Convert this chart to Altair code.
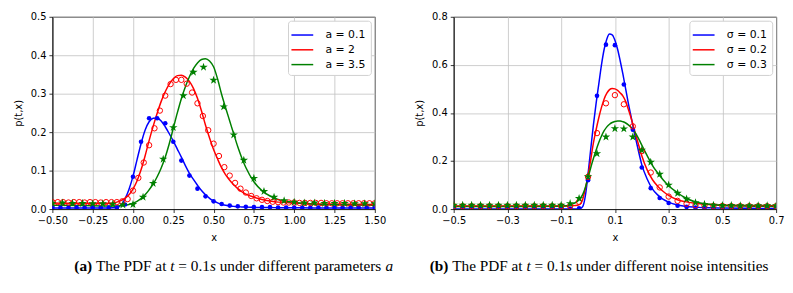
import math
import pandas as pd
import altair as alt

# ---------------- data ----------------
A_LABELS = ["a = 0.1", "a = 2", "a = 3.5"]
S_LABELS = ["σ = 0.1", "σ = 0.2", "σ = 0.3"]
COLORS = ["#0000ff", "#ff0000", "#008000"]

# left panel: solid curves
left_line_x = [-0.5, -0.3, -0.15, -0.1, -0.075, -0.05, -0.025, 0.0,
               0.025, 0.05, 0.075, 0.1, 0.125, 0.15, 0.175, 0.2, 0.225, 0.25,
               0.275, 0.3, 0.325, 0.35, 0.375, 0.4, 0.425, 0.45, 0.475, 0.5,
               0.525, 0.55, 0.575, 0.6, 0.625, 0.65, 0.675, 0.7,
               0.75, 0.8, 0.85, 0.9, 1.0, 1.1, 1.25, 1.5]
left_line_blue = [0.003, 0.003, 0.003, 0.004, 0.01, 0.026, 0.051, 0.085,
                  0.128, 0.17, 0.205, 0.227, 0.236, 0.237, 0.229, 0.214, 0.196, 0.177,
                  0.156, 0.135, 0.113, 0.093, 0.077, 0.062, 0.048, 0.037, 0.028, 0.021,
                  0.016, 0.012, 0.01, 0.008, 0.007, 0.006, 0.0055, 0.005,
                  0.0045, 0.004, 0.004, 0.0035, 0.0035, 0.003, 0.003, 0.003]
left_line_red = [0.016, 0.015, 0.015, 0.018, 0.022, 0.028, 0.037, 0.052,
                 0.073, 0.102, 0.138, 0.178, 0.215, 0.249, 0.28, 0.305, 0.325, 0.339,
                 0.347, 0.348, 0.343, 0.332, 0.314, 0.288, 0.255, 0.218, 0.185, 0.155,
                 0.13, 0.107, 0.089, 0.075, 0.063, 0.053, 0.045, 0.039,
                 0.031, 0.025, 0.021, 0.018, 0.016, 0.014, 0.013, 0.012]
left_line_green = [0.01, 0.009, 0.008, 0.008, 0.009, 0.01, 0.012, 0.015,
                   0.02, 0.027, 0.037, 0.05, 0.065, 0.084, 0.107, 0.135, 0.17, 0.21,
                   0.25, 0.287, 0.318, 0.344, 0.365, 0.38, 0.389, 0.391, 0.385, 0.37,
                   0.338, 0.298, 0.263, 0.229, 0.195, 0.162, 0.133, 0.108,
                   0.071, 0.048, 0.034, 0.025, 0.017, 0.013, 0.011, 0.01]

# left panel: markers
left_dot_x = [round(-0.5 + 0.05 * k, 4) for k in range(41)]
left_dot_blue = [0.004] * 9 + [0.012, 0.084, 0.175, 0.236, 0.236, 0.223, 0.175, 0.126,
                               0.087, 0.053, 0.033, 0.02, 0.013, 0.009, 0.007, 0.006, 0.005,
                               0.005, 0.005, 0.004, 0.004, 0.004, 0.004, 0.004, 0.004,
                               0.004, 0.004, 0.004, 0.004, 0.004, 0.004, 0.004]
left_circ_x = [round(-0.5 + k / 30, 4) for k in range(61)]
left_circ_red = [0.018, 0.018, 0.018, 0.017, 0.018, 0.018, 0.017, 0.018, 0.018, 0.017, 0.018, 0.018,
                 0.018, 0.02, 0.026, 0.048, 0.081, 0.121, 0.166, 0.21, 0.256, 0.295, 0.325,
                 0.336, 0.336, 0.326, 0.303, 0.275, 0.242, 0.205, 0.17, 0.138, 0.109, 0.087,
                 0.068, 0.053, 0.043, 0.034, 0.028, 0.024, 0.021, 0.019, 0.018,
                 0.017, 0.017, 0.017, 0.016, 0.016, 0.016, 0.016, 0.016, 0.015, 0.015,
                 0.015, 0.015, 0.015, 0.015, 0.015, 0.015, 0.015, 0.015]
left_star_x = [round(-0.5 + 0.0625 * k, 4) for k in range(33)]
left_star_green = [0.015, 0.016, 0.015, 0.015, 0.014, 0.014,
                   0.013, 0.011, 0.012, 0.031, 0.067, 0.13, 0.212, 0.295, 0.356, 0.369,
                   0.335, 0.266, 0.193, 0.127, 0.08, 0.046, 0.031, 0.022, 0.018,
                   0.016, 0.016, 0.015, 0.015, 0.015, 0.014, 0.014, 0.014]

# right panel: solid curves
right_line_x = [-0.5, -0.2, -0.1, -0.08, -0.06, -0.04, -0.03, -0.02, -0.01,
                0.0, 0.01, 0.02, 0.03, 0.04, 0.05, 0.06, 0.07, 0.08, 0.09, 0.1,
                0.11, 0.12, 0.13, 0.14, 0.15, 0.16, 0.17, 0.18, 0.19, 0.2,
                0.22, 0.24, 0.26, 0.28, 0.3,
                0.33, 0.36, 0.4, 0.45, 0.5, 0.6, 0.7]
right_line_blue = [0.0, 0.0, 0.0, 0.0, 0.0, 0.0005, 0.002, 0.01, 0.055,
                   0.145, 0.25, 0.35, 0.44, 0.52, 0.6, 0.665, 0.708, 0.728, 0.725, 0.702,
                   0.665, 0.615, 0.56, 0.5, 0.44, 0.385, 0.33, 0.28, 0.23, 0.185,
                   0.125, 0.083, 0.058, 0.04, 0.029,
                   0.018, 0.012, 0.008, 0.005, 0.004, 0.003, 0.002]
right_line_red = [0.013, 0.013, 0.013, 0.013, 0.014, 0.016, 0.02, 0.04, 0.085,
                  0.14, 0.205, 0.275, 0.33, 0.38, 0.423, 0.458, 0.482, 0.497, 0.502, 0.5,
                  0.494, 0.483, 0.47, 0.448, 0.415, 0.38, 0.34, 0.3, 0.26, 0.222,
                  0.163, 0.122, 0.094, 0.073, 0.057,
                  0.04, 0.031, 0.024, 0.019, 0.017, 0.015, 0.014]
right_line_green = [0.011, 0.011, 0.012, 0.014, 0.02, 0.032, 0.043, 0.06, 0.09,
                    0.13, 0.172, 0.21, 0.245, 0.277, 0.304, 0.326, 0.342, 0.353, 0.36, 0.364,
                    0.366, 0.366, 0.363, 0.358, 0.35, 0.34, 0.327, 0.31, 0.289, 0.266,
                    0.222, 0.181, 0.149, 0.121, 0.097,
                    0.07, 0.048, 0.03, 0.02, 0.015, 0.012, 0.011]

# right panel: markers (shared x grid)
right_mark_x = [round(-0.5 + k / 30, 4) for k in range(37)]
right_mark_blue = [0.001] * 14 + [0.003, 0.12, 0.471, 0.684, 0.682, 0.518, 0.33, 0.173,
                                  0.087, 0.046, 0.025, 0.014, 0.009, 0.006,
                                  0.004, 0.004, 0.003, 0.003, 0.003, 0.002, 0.002, 0.002, 0.002]
right_mark_red = [0.012] * 14 + [0.03, 0.134, 0.316, 0.44, 0.474, 0.436, 0.344, 0.241,
                                 0.152, 0.09, 0.052, 0.034, 0.022, 0.016,
                                 0.014, 0.013, 0.013, 0.012, 0.012, 0.012, 0.012, 0.012, 0.012]
right_mark_green = [0.016] * 12 + [0.016, 0.023, 0.044, 0.135, 0.231, 0.3, 0.335, 0.334,
                                   0.3, 0.245, 0.195, 0.145, 0.1, 0.066, 0.042, 0.027, 0.02, 0.016,
                                   0.015, 0.015, 0.014, 0.014, 0.014, 0.014, 0.014]

left_xticks = [-0.5, -0.25, 0.0, 0.25, 0.5, 0.75, 1.0, 1.25, 1.5]
left_yticks = [0.0, 0.1, 0.2, 0.3, 0.4, 0.5]
right_xticks = [-0.5, -0.3, -0.1, 0.1, 0.3, 0.5, 0.7]
right_yticks = [0.0, 0.2, 0.4, 0.6, 0.8]

cap_a = [("(a)", "bold"), (" The PDF at ", "regular"), ("t", "italic"), (" = 0.1", "regular"),
         ("s", "italic"), (" under different parameters ", "regular"), ("a", "italic")]
cap_b = [("(b)", "bold"), (" The PDF at ", "regular"), ("t", "italic"), (" = 0.1", "regular"),
         ("s", "italic"), (" under different noise intensities", "regular")]

# ---------------- layout / style ----------------
W, H = 327, 195
CAP_SIZE = 15.5
CAP_Y = 258

# Times (Liberation Serif) advance widths, per 1000 em
REG = {" ": 250, "T": 611, "h": 500, "e": 444, "P": 556, "D": 722, "F": 556, "a": 444,
       "t": 278, "=": 564, "0": 500, ".": 250, "1": 500, "u": 500, "n": 500, "d": 500,
       "r": 333, "i": 278, "f": 333, "p": 500, "m": 778, "s": 389, "o": 500}
ITA = {"t": 278, "s": 389, "a": 500}
BLD = {"(": 333, ")": 333, "a": 500, "b": 556}
TW = {"regular": REG, "italic": ITA, "bold": BLD}


def seg_width(s, style):
    return sum(TW[style].get(ch, 500) for ch in s) * CAP_SIZE / 1000.0


star_pts = []
for i in range(10):
    r = 1.0 if i % 2 == 0 else 0.382
    ang = math.radians(-90 + 36 * i)
    star_pts.append((r * math.cos(ang), r * math.sin(ang)))
STAR = "M" + " L".join(f"{px:.3f},{py:.3f}" for px, py in star_pts) + " Z"


def caption_layers(segments, center_rel):
    total = sum(seg_width(s, st) for s, st in segments)
    x = center_rel - total / 2.0
    layers = []
    for s, st in segments:
        lead = len(s) - len(s.lstrip(" "))
        txt = s.strip(" ")
        px = x + seg_width(" " * lead, "regular")
        layers.append(
            alt.Chart(pd.DataFrame({"t": [txt]})).mark_text(
                align="left", baseline="alphabetic", font="Liberation Serif",
                fontSize=CAP_SIZE, color="black",
                fontStyle="italic" if st == "italic" else "normal",
                fontWeight="bold" if st == "bold" else "normal",
            ).encode(x=alt.value(px), y=alt.value(CAP_Y), text="t:N")
        )
        x += seg_width(s, st)
    return layers


def panel(line_x, line_ys, labels, bx, by, rx, ry, gx, gy,
          xdom, ydom, xticks, yticks, xfmt, yfmt, caption, cap_center):
    rows = []
    for lab, ys in zip(labels, line_ys):
        for x, y in zip(line_x, ys):
            rows.append({"x": x, "y": y, "series": lab})
    ldf = pd.DataFrame(rows)
    X = alt.X("x:Q", scale=alt.Scale(domain=xdom, nice=False, zero=False),
              axis=alt.Axis(values=xticks, tickCount=30, format=xfmt, title="x",
                            grid=True, titlePadding=7))
    Y = alt.Y("y:Q", scale=alt.Scale(domain=ydom, nice=False, zero=False),
              axis=alt.Axis(values=yticks, tickCount=30, format=yfmt, title="p(t,x)",
                            grid=True, titlePadding=7, labelOverlap=False))
    lines = alt.Chart(ldf).mark_line(strokeWidth=1.5, clip=True, interpolate="monotone").encode(
        x=X, y=Y,
        color=alt.Color("series:N", scale=alt.Scale(domain=labels, range=COLORS),
                        legend=alt.Legend(title=None, orient="top-right", offset=4,
                                          fillColor="white", strokeColor="#d0d0d0",
                                          cornerRadius=3, padding=5,
                                          labelFont="DejaVu Sans", labelFontSize=11,
                                          labelColor="black",
                                          symbolType="M-1.3,0H1.3", symbolSize=289,
                                          symbolStrokeWidth=1.5, labelOffset=14,
                                          rowPadding=0)),
    )
    dots = alt.Chart(pd.DataFrame({"x": bx, "y": by})).mark_point(
        shape="circle", filled=True, size=22, color=COLORS[0], opacity=1, clip=True
    ).encode(x="x:Q", y="y:Q")
    circ = alt.Chart(pd.DataFrame({"x": rx, "y": ry})).mark_point(
        shape="circle", filled=False, size=30, color=COLORS[1], strokeWidth=1, opacity=1, clip=True
    ).encode(x="x:Q", y="y:Q")
    stars = alt.Chart(pd.DataFrame({"x": gx, "y": gy})).mark_point(
        shape=STAR, filled=True, size=81, color=COLORS[2], opacity=1, clip=True
    ).encode(x="x:Q", y="y:Q")
    layers = [lines, dots, circ, stars] + caption_layers(caption, cap_center)
    return alt.layer(*layers).properties(width=W, height=H)


left = panel(left_line_x, [left_line_blue, left_line_red, left_line_green], A_LABELS,
             left_dot_x, left_dot_blue, left_circ_x, left_circ_red, left_star_x, left_star_green,
             [-0.5, 1.5], [0, 0.5], left_xticks, left_yticks, ".2f", ".1f", cap_a, 238 - 54)
right = panel(right_line_x, [right_line_blue, right_line_red, right_line_green], S_LABELS,
              right_mark_x, right_mark_blue, right_mark_x, right_mark_red, right_mark_x, right_mark_green,
              [-0.5, 0.7], [0, 0.8], right_xticks, right_yticks, ".1f", ".1f", cap_b, 600 - 452.3)

chart = alt.hconcat(left, right, spacing=20).resolve_scale(
    color="independent", x="independent", y="independent"
).properties(
    padding={"left": 5, "top": 1, "right": 0, "bottom": 0}
).configure(font="DejaVu Sans").configure_view(
    stroke="black", strokeWidth=1
).configure_axis(
    labelFont="DejaVu Sans", labelFontSize=10, labelColor="black",
    titleFont="DejaVu Sans", titleFontSize=10, titleFontWeight="normal", titleColor="black",
    tickColor="black", tickSize=3.5, tickWidth=0.8, domainColor="black", domainWidth=0.8,
    gridColor="#c0c0c0", gridWidth=0.8, labelPadding=3, labelFlush=False, labelOverlap=False,
)

chart.save("out.html", embed_options={"renderer": "svg", "actions": False})
